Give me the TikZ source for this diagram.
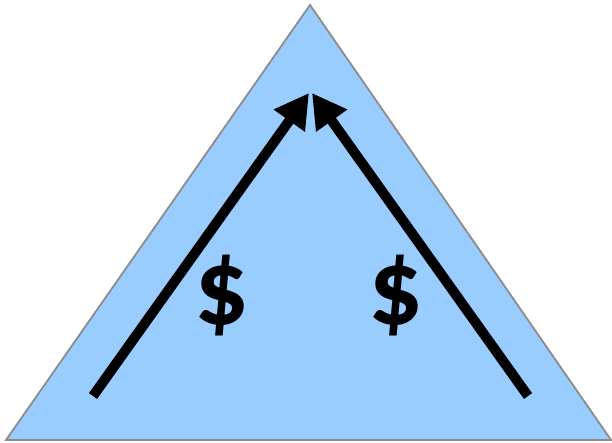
\documentclass[tikz,border=0pt]{standalone}
\usepackage{fontspec}
\setmainfont{Carlito}
\usetikzlibrary{arrows.meta}
\definecolor{triblue}{HTML}{99CCFF}
\definecolor{trigray}{HTML}{8C8C8C}
\tikzset{
  flow/.style={line width=10pt, -{Triangle[length=34pt,width=36pt]}},
  money/.style={font=\fontsize{108}{108}\selectfont\bfseries, inner sep=0pt}
}
\begin{document}
\begin{tikzpicture}[x=1pt,y=-1pt]
\useasboundingbox (0,0) rectangle (612,443);
\coordinate (apex) at (310,5);
\coordinate (bl) at (6,440);
\coordinate (br) at (611,440);
\draw[fill=triblue, draw=trigray, line width=1.8pt] (apex) -- (bl) -- (br) -- cycle;
\coordinate (lt) at (93,396);
\coordinate (lh) at (309,93);
\coordinate (rt) at (528,396);
\coordinate (rh) at (312,93);
\draw[flow] (lt) -- (lh);
\draw[flow] (rt) -- (rh);
\node[money] (d1) at (222,296) {\$};
\node[money] (d2) at (396,296) {\$};
\end{tikzpicture}
\end{document}
